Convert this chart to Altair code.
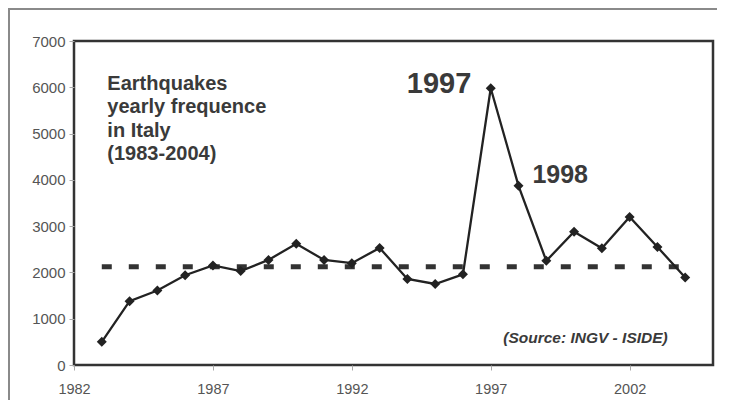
import altair as alt
import pandas as pd

years = list(range(1983, 2005))
counts = [500, 1380, 1610, 1940, 2150, 2030, 2270, 2620, 2270, 2200, 2530,
          1860, 1750, 1960, 5980, 3870, 2250, 2880, 2520, 3200, 2550, 1890]
ref_years = [1983, 2004]
ref_level = [2120, 2120]

title_lines = ["Earthquakes", "yearly frequence", "in Italy", "(1983-2004)"]
ann_text = ["1997", "1998"]
ann_x = [1996.3, 1998.5]
ann_y = [5880, 3930]
ann_size = [29, 25]

FONT = "Liberation Sans"
TXT = "#3a3a3a"

df = pd.DataFrame({"year": years, "count": counts})
ref = pd.DataFrame({"year": ref_years, "count": ref_level})

xs = alt.Scale(domain=[1982, 2005], nice=False, zero=False)
ys = alt.Scale(domain=[0, 7000], nice=False)

x_axis = alt.Axis(values=[1982, 1987, 1992, 1997, 2002], format="d", title=None,
                  grid=False, domain=False, tickSize=5, tickColor="#aaaaaa",
                  labelPadding=12, labelFont=FONT, labelFontSize=14.5,
                  labelColor="#555555", labelFlush=False)
y_axis = alt.Axis(values=list(range(0, 7001, 1000)), format="d", title=None,
                  grid=False, domain=False, tickSize=5, tickColor="#aaaaaa",
                  labelPadding=4, labelFont=FONT, labelFontSize=15,
                  labelColor="#555555")

line = alt.Chart(df).mark_line(color="#222222", strokeWidth=2.3).encode(
    x=alt.X("year:Q", scale=xs, axis=x_axis),
    y=alt.Y("count:Q", scale=ys, axis=y_axis),
)
pts = alt.Chart(df).mark_point(shape="diamond", filled=True, size=100,
                               color="#222222", opacity=1).encode(
    x=alt.X("year:Q", scale=xs), y=alt.Y("count:Q", scale=ys))

dash = alt.Chart(ref).mark_line(color="#333333", strokeWidth=5,
                                strokeDash=[10, 17]).encode(
    x=alt.X("year:Q", scale=xs), y=alt.Y("count:Q", scale=ys))

title_df = pd.DataFrame({"year": [1983.2], "count": [5940], "t": [title_lines]})
title_txt = alt.Chart(title_df).mark_text(
    align="left", baseline="alphabetic", font=FONT, fontSize=20,
    fontWeight="bold", color=TXT, lineHeight=23.3).encode(
    x=alt.X("year:Q", scale=xs), y=alt.Y("count:Q", scale=ys), text="t")

ann_layers = []
for t, xv, yv, fs in zip(ann_text, ann_x, ann_y, ann_size):
    d = pd.DataFrame({"year": [xv], "count": [yv], "t": [t]})
    ann_layers.append(alt.Chart(d).mark_text(
        align="right" if t == "1997" else "left", baseline="alphabetic",
        font=FONT, fontSize=fs, fontWeight="bold", color=TXT).encode(
        x=alt.X("year:Q", scale=xs), y=alt.Y("count:Q", scale=ys), text="t"))

src_df = pd.DataFrame({"year": [1997.45], "count": [480], "t": ["(Source: INGV - ISIDE)"]})
src = alt.Chart(src_df).mark_text(
    align="left", baseline="alphabetic", font=FONT, fontSize=15.5,
    fontWeight="bold", fontStyle="italic", color=TXT).encode(
    x=alt.X("year:Q", scale=xs), y=alt.Y("count:Q", scale=ys), text="t")

# outer frame of the original figure (top and left edges)
frame_left = alt.Chart(df).mark_rule(color="#8a8a8a", strokeWidth=1.5, clip=False).encode(
    x=alt.value(-65), y=alt.value(-33), y2=alt.value(400))
frame_top = alt.Chart(df).mark_rule(color="#8a8a8a", strokeWidth=1.5, clip=False).encode(
    x=alt.value(-66), x2=alt.value(720), y=alt.value(-32))

chart = alt.layer(dash, line, pts, title_txt, *ann_layers, src, frame_left, frame_top).properties(
    width=639, height=324,
    autosize=alt.AutoSizeParams(type="none"),
    padding={"left": 66, "top": 33, "right": 4, "bottom": 35},
    background="white",
).configure_view(stroke="#333333", strokeWidth=2.5)

chart.save("out.html", embed_options={"renderer": "svg", "actions": False})
